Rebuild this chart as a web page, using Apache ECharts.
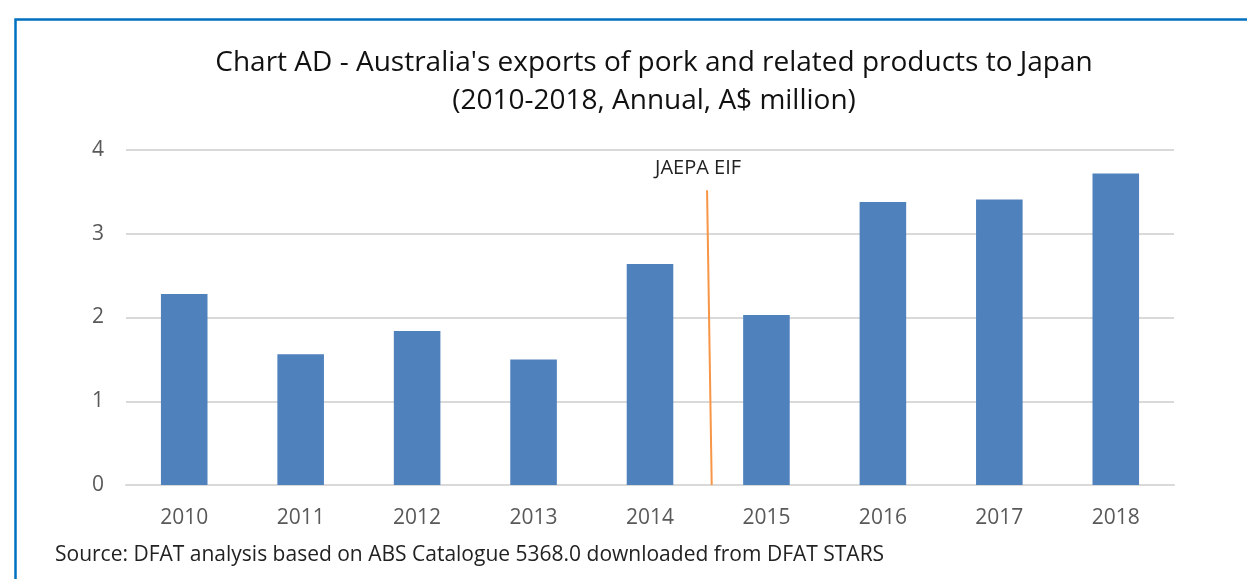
<!DOCTYPE html>
<html>
<head>
<meta charset="utf-8">
<script src="https://cdn.jsdelivr.net/npm/echarts@6/dist/echarts.min.js"></script>
<style>
  html, body { margin: 0; padding: 0; background: #fff; }
  #chart { width: 1247px; height: 579px; }
</style>
</head>
<body>
<div id="chart"></div>
<script>
// data
const years = ["2010", "2011", "2012", "2013", "2014", "2015", "2016", "2017", "2018"];
const exportsAUD = [2.28, 1.56, 1.84, 1.50, 2.64, 2.03, 3.38, 3.41, 3.72];
const eifLine = [[4.99, 3.52], [5.03, 0]];
const eifLabel = "JAEPA EIF";

const font = "'Open Sans', 'Noto Sans', sans-serif";

const chart = echarts.init(document.getElementById("chart"));
chart.setOption({
  animation: false,
  backgroundColor: "#fff",
  graphic: [
    {
      type: "rect",
      left: 13, top: 17,
      shape: { width: 1300, height: 700 },
      style: { fill: "none", stroke: "#0070c0", lineWidth: 2.5 }
    },
    {
      type: "text",
      x: 654, y: 63,
      style: {
        text: "Chart AD - Australia's exports of pork and related products to Japan",
        font: "28px " + font, fill: "#111", align: "center", verticalAlign: "middle"
      }
    },
    {
      type: "text",
      x: 654, y: 101,
      style: {
        text: "(2010-2018, Annual, A$ million)",
        font: "28px " + font, fill: "#111", align: "center", verticalAlign: "middle"
      }
    },
    {
      type: "text",
      x: 55, y: 555,
      style: {
        text: "Source: DFAT analysis based on ABS Catalogue 5368.0 downloaded from DFAT STARS",
        font: "21px " + font, fill: "#222", verticalAlign: "middle"
      }
    }
  ],
  grid: { left: 126, right: 73, top: 150, bottom: 94 },
  xAxis: [
    {
      type: "category",
      data: years,
      axisLine: { lineStyle: { color: "#d9d9d9", width: 2 } },
      axisTick: { inside: true, length: 6, lineStyle: { color: "#d9d9d9", width: 2 } },
      axisLabel: { color: "#595959", fontSize: 21, fontFamily: font, margin: 23 }
    },
    {
      type: "value", min: 0, max: 9, show: false
    }
  ],
  yAxis: {
    type: "value",
    min: 0, max: 4, interval: 1,
    axisLine: { show: false },
    axisTick: { show: false },
    axisLabel: { color: "#595959", fontSize: 21, fontFamily: font, margin: 22 },
    splitLine: { lineStyle: { color: "#d9d9d9", width: 2 } }
  },
  series: [
    {
      type: "bar",
      data: exportsAUD,
      barWidth: "40%",
      itemStyle: { color: "#4f81bd" }
    },
    {
      type: "line",
      xAxisIndex: 1,
      data: eifLine,
      symbol: "none",
      lineStyle: { color: "#f79646", width: 2 },
      markPoint: {
        symbol: "circle",
        symbolSize: 0,
        data: [{ coord: eifLine[0], value: eifLabel }],
        label: {
          show: true,
          formatter: eifLabel,
          position: "top",
          distance: 12,
          offset: [-9, 0],
          color: "#222",
          fontSize: 20,
          fontFamily: font
        }
      }
    }
  ]
});
</script>
</body>
</html>
